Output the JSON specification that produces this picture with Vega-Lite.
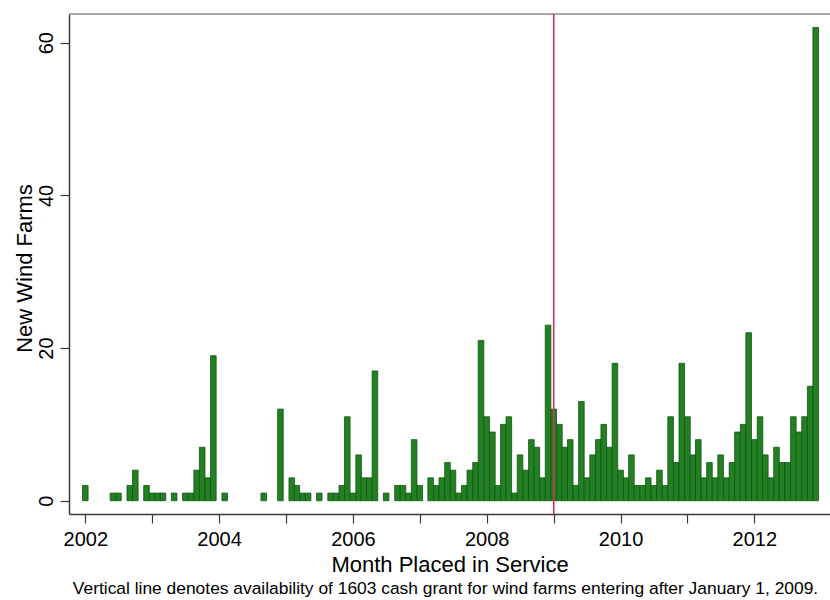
{
  "$schema": "https://vega.github.io/schema/vega-lite/v6.json",
  "width": 761,
  "height": 500,
  "autosize": "none",
  "padding": {"left": 69, "top": 14, "right": 0, "bottom": 86},
  "background": "white",
  "config": {"view": {"stroke": null}, "font": "Liberation Sans"},
  "title": {
    "text": "Vertical line denotes availability of 1603 cash grant for wind farms entering after January 1, 2009.",
    "orient": "bottom",
    "anchor": "middle",
    "fontSize": 17.4,
    "fontWeight": "normal",
    "color": "#000000",
    "offset": 5,
    "dx": -4
  },
  "layer": [
    {
      "data": {
        "values": [
          {"month": "2002-01-01", "farms": 2},
          {"month": "2002-06-01", "farms": 1},
          {"month": "2002-07-01", "farms": 1},
          {"month": "2002-09-01", "farms": 2},
          {"month": "2002-10-01", "farms": 4},
          {"month": "2002-12-01", "farms": 2},
          {"month": "2003-01-01", "farms": 1},
          {"month": "2003-02-01", "farms": 1},
          {"month": "2003-03-01", "farms": 1},
          {"month": "2003-05-01", "farms": 1},
          {"month": "2003-07-01", "farms": 1},
          {"month": "2003-08-01", "farms": 1},
          {"month": "2003-09-01", "farms": 4},
          {"month": "2003-10-01", "farms": 7},
          {"month": "2003-11-01", "farms": 3},
          {"month": "2003-12-01", "farms": 19},
          {"month": "2004-02-01", "farms": 1},
          {"month": "2004-09-01", "farms": 1},
          {"month": "2004-12-01", "farms": 12},
          {"month": "2005-02-01", "farms": 3},
          {"month": "2005-03-01", "farms": 2},
          {"month": "2005-04-01", "farms": 1},
          {"month": "2005-05-01", "farms": 1},
          {"month": "2005-07-01", "farms": 1},
          {"month": "2005-09-01", "farms": 1},
          {"month": "2005-10-01", "farms": 1},
          {"month": "2005-11-01", "farms": 2},
          {"month": "2005-12-01", "farms": 11},
          {"month": "2006-01-01", "farms": 1},
          {"month": "2006-02-01", "farms": 6},
          {"month": "2006-03-01", "farms": 3},
          {"month": "2006-04-01", "farms": 3},
          {"month": "2006-05-01", "farms": 17},
          {"month": "2006-07-01", "farms": 1},
          {"month": "2006-09-01", "farms": 2},
          {"month": "2006-10-01", "farms": 2},
          {"month": "2006-11-01", "farms": 1},
          {"month": "2006-12-01", "farms": 8},
          {"month": "2007-01-01", "farms": 2},
          {"month": "2007-03-01", "farms": 3},
          {"month": "2007-04-01", "farms": 2},
          {"month": "2007-05-01", "farms": 3},
          {"month": "2007-06-01", "farms": 5},
          {"month": "2007-07-01", "farms": 4},
          {"month": "2007-08-01", "farms": 1},
          {"month": "2007-09-01", "farms": 2},
          {"month": "2007-10-01", "farms": 4},
          {"month": "2007-11-01", "farms": 5},
          {"month": "2007-12-01", "farms": 21},
          {"month": "2008-01-01", "farms": 11},
          {"month": "2008-02-01", "farms": 9},
          {"month": "2008-03-01", "farms": 2},
          {"month": "2008-04-01", "farms": 10},
          {"month": "2008-05-01", "farms": 11},
          {"month": "2008-06-01", "farms": 1},
          {"month": "2008-07-01", "farms": 6},
          {"month": "2008-08-01", "farms": 4},
          {"month": "2008-09-01", "farms": 8},
          {"month": "2008-10-01", "farms": 7},
          {"month": "2008-11-01", "farms": 3},
          {"month": "2008-12-01", "farms": 23},
          {"month": "2009-01-01", "farms": 12},
          {"month": "2009-02-01", "farms": 10},
          {"month": "2009-03-01", "farms": 7},
          {"month": "2009-04-01", "farms": 8},
          {"month": "2009-05-01", "farms": 2},
          {"month": "2009-06-01", "farms": 13},
          {"month": "2009-07-01", "farms": 3},
          {"month": "2009-08-01", "farms": 6},
          {"month": "2009-09-01", "farms": 8},
          {"month": "2009-10-01", "farms": 10},
          {"month": "2009-11-01", "farms": 7},
          {"month": "2009-12-01", "farms": 18},
          {"month": "2010-01-01", "farms": 4},
          {"month": "2010-02-01", "farms": 3},
          {"month": "2010-03-01", "farms": 6},
          {"month": "2010-04-01", "farms": 2},
          {"month": "2010-05-01", "farms": 2},
          {"month": "2010-06-01", "farms": 3},
          {"month": "2010-07-01", "farms": 2},
          {"month": "2010-08-01", "farms": 4},
          {"month": "2010-09-01", "farms": 2},
          {"month": "2010-10-01", "farms": 11},
          {"month": "2010-11-01", "farms": 5},
          {"month": "2010-12-01", "farms": 18},
          {"month": "2011-01-01", "farms": 11},
          {"month": "2011-02-01", "farms": 6},
          {"month": "2011-03-01", "farms": 8},
          {"month": "2011-04-01", "farms": 3},
          {"month": "2011-05-01", "farms": 5},
          {"month": "2011-06-01", "farms": 3},
          {"month": "2011-07-01", "farms": 6},
          {"month": "2011-08-01", "farms": 3},
          {"month": "2011-09-01", "farms": 5},
          {"month": "2011-10-01", "farms": 9},
          {"month": "2011-11-01", "farms": 10},
          {"month": "2011-12-01", "farms": 22},
          {"month": "2012-01-01", "farms": 8},
          {"month": "2012-02-01", "farms": 11},
          {"month": "2012-03-01", "farms": 6},
          {"month": "2012-04-01", "farms": 3},
          {"month": "2012-05-01", "farms": 7},
          {"month": "2012-06-01", "farms": 5},
          {"month": "2012-07-01", "farms": 5},
          {"month": "2012-08-01", "farms": 11},
          {"month": "2012-09-01", "farms": 9},
          {"month": "2012-10-01", "farms": 11},
          {"month": "2012-11-01", "farms": 15},
          {"month": "2012-12-01", "farms": 62}
        ]
      },
      "mark": {"type": "bar", "width": 5.6, "fill": "#228022", "stroke": "#115511", "strokeWidth": 0.8},
      "encoding": {
        "x": {
          "field": "month",
          "type": "temporal",
          "scale": {
            "type": "utc",
            "padding": 0,
            "domain": [
              {"year": 2001, "month": 10, "date": 4, "utc": true},
              {"year": 2013, "month": 2, "date": 17, "utc": true}
            ]
          },
          "axis": {
            "values": [
              {"year": 2002, "month": 1, "date": 1, "utc": true},
              {"year": 2003, "month": 1, "date": 1, "utc": true},
              {"year": 2004, "month": 1, "date": 1, "utc": true},
              {"year": 2005, "month": 1, "date": 1, "utc": true},
              {"year": 2006, "month": 1, "date": 1, "utc": true},
              {"year": 2007, "month": 1, "date": 1, "utc": true},
              {"year": 2008, "month": 1, "date": 1, "utc": true},
              {"year": 2009, "month": 1, "date": 1, "utc": true},
              {"year": 2010, "month": 1, "date": 1, "utc": true},
              {"year": 2011, "month": 1, "date": 1, "utc": true},
              {"year": 2012, "month": 1, "date": 1, "utc": true}
            ],
            "labelExpr": "utcyear(datum.value) % 2 == 0 ? utcFormat(datum.value, '%Y') : ''",
            "title": "Month Placed in Service",
            "grid": false,
            "domainColor": "#3a3a3a",
            "domainWidth": 1.5,
            "tickColor": "#3a3a3a",
            "tickWidth": 1.2,
            "tickSize": 9,
            "labelFontSize": 20,
            "labelColor": "#000000",
            "labelPadding": 6,
            "labelFlush": false,
            "labelOverlap": false,
            "titleFontSize": 22,
            "titleFontWeight": "normal",
            "titleColor": "#000000",
            "titleBaseline": "alphabetic",
            "titleY": 57
          }
        },
        "y": {
          "field": "farms",
          "type": "quantitative",
          "scale": {"domain": [-1.74, 63.76], "nice": false, "zero": false},
          "axis": {
            "values": [0, 20, 40, 60],
            "title": "New Wind Farms",
            "grid": false,
            "domainColor": "#3a3a3a",
            "domainWidth": 1.5,
            "tickColor": "#3a3a3a",
            "tickWidth": 1.2,
            "tickSize": 9,
            "labelFontSize": 20,
            "labelColor": "#000000",
            "labelAngle": -90,
            "labelAlign": "center",
            "labelBaseline": "alphabetic",
            "labelPadding": 8,
            "titleFontSize": 22,
            "titleFontWeight": "normal",
            "titleColor": "#000000",
            "titleBaseline": "alphabetic",
            "titleX": -38,
            "titleY": 254
          }
        },
        "y2": {"datum": 0}
      }
    },
    {
      "data": {"values": [{"frame": "top"}]},
      "mark": {"type": "rule", "color": "#8c8c8c", "strokeWidth": 1.5},
      "encoding": {"y": {"datum": 63.76}}
    },
    {
      "data": {"values": [{"grant": "2009-01-01"}]},
      "mark": {"type": "rule", "color": "#d2305e", "strokeWidth": 1.6},
      "encoding": {"x": {"field": "grant", "type": "temporal"}}
    }
  ]
}
